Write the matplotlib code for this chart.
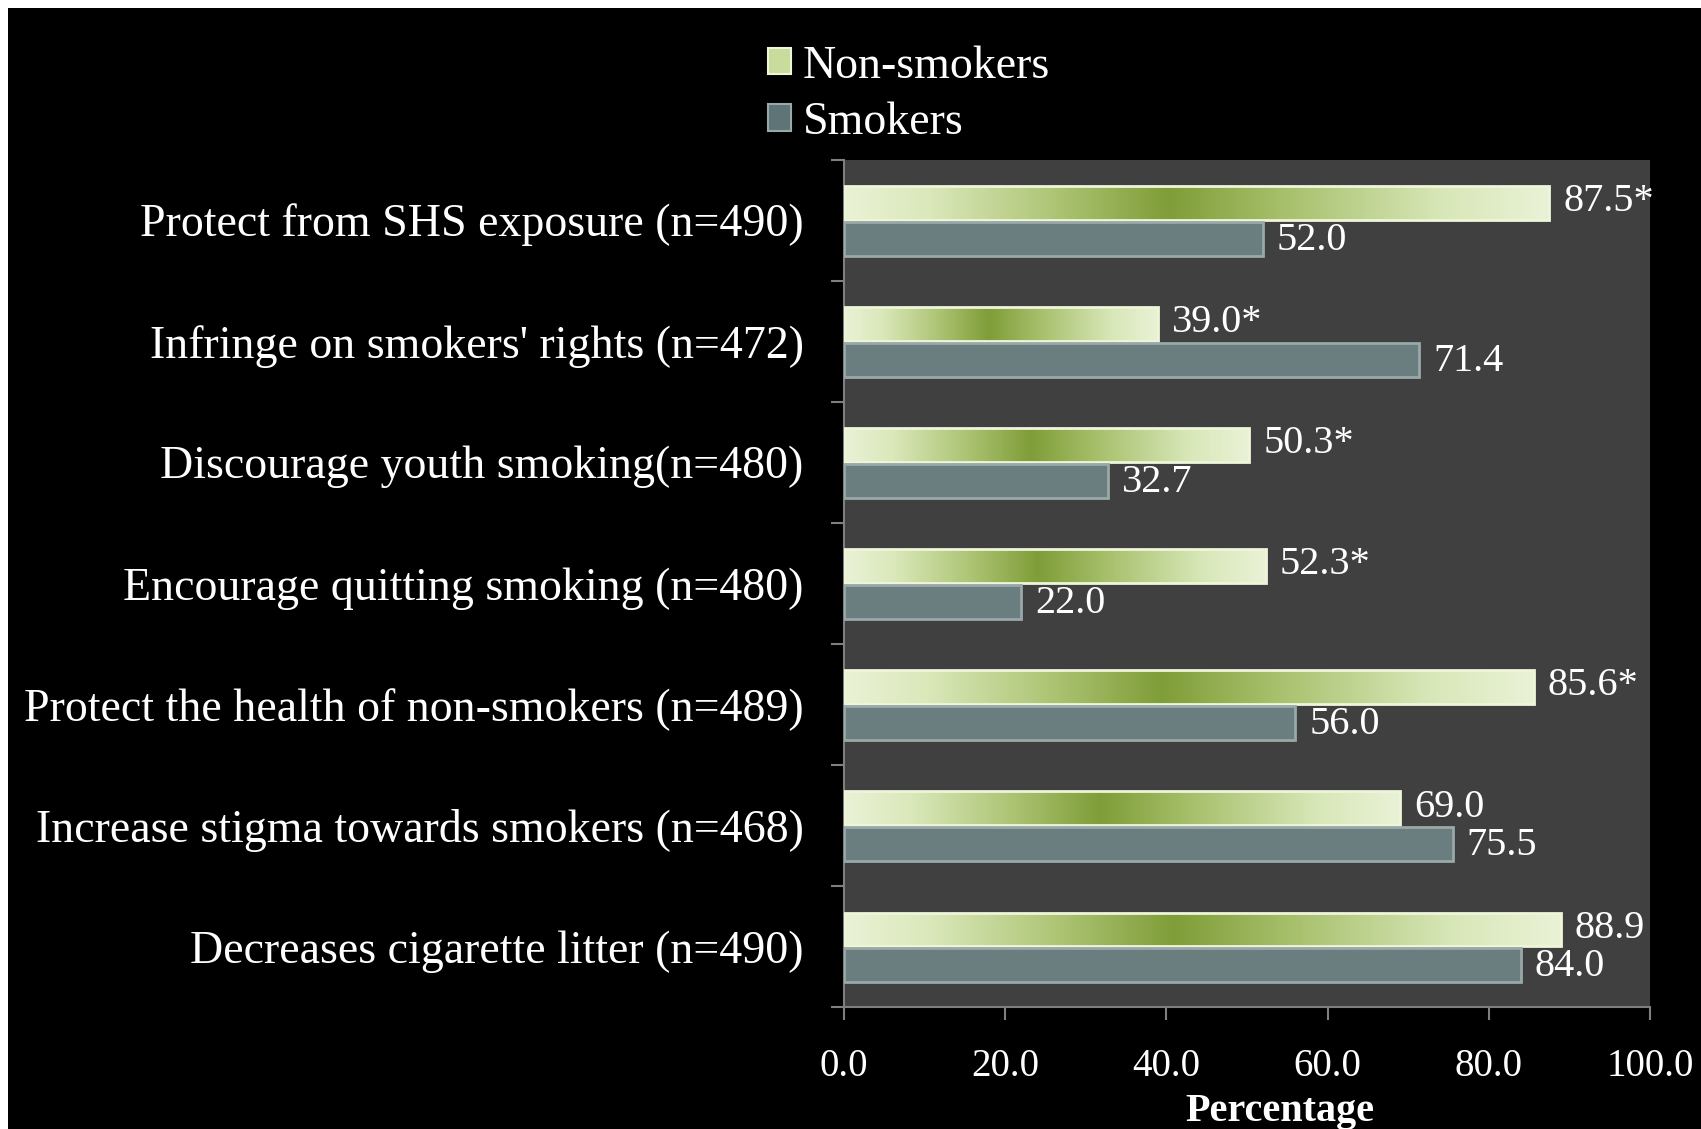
import numpy as np
import matplotlib
matplotlib.use("Agg")
import matplotlib.pyplot as plt
from matplotlib.colors import LinearSegmentedColormap
from matplotlib.patches import Rectangle, Patch

categories = [
    "Protect from SHS exposure (n=490)",
    "Infringe on smokers' rights (n=472)",
    "Discourage youth smoking(n=480)",
    "Encourage quitting smoking (n=480)",
    "Protect the health of non-smokers (n=489)",
    "Increase stigma towards smokers (n=468)",
    "Decreases cigarette litter (n=490)",
]
non_smokers = [87.5, 39.0, 50.3, 52.3, 85.6, 69.0, 88.9]
smokers = [52.0, 71.4, 32.7, 22.0, 56.0, 75.5, 84.0]
non_smoker_labels = ["87.5*", "39.0*", "50.3*", "52.3*", "85.6*", "69.0", "88.9"]
smoker_labels = ["52.0", "71.4", "32.7", "22.0", "56.0", "75.5", "84.0"]
xticks = [0, 20, 40, 60, 80, 100]
xtick_labels = ["0.0", "20.0", "40.0", "60.0", "80.0", "100.0"]

FONT = "Liberation Serif"
W, H = 1701, 1129
fig = plt.figure(figsize=(W / 100, H / 100), dpi=100)
fig.patch.set_facecolor("white")
fig.add_artist(Rectangle((8 / W, 0), 1, 1 - 8 / H, transform=fig.transFigure,
                         facecolor="black", edgecolor="none", zorder=-10))

ax = fig.add_axes([844 / W, 1 - 1007 / H, (1650 - 844) / W, (1007 - 159.5) / H])
ax.set_facecolor("#404040")

y = np.arange(len(categories))
h = 0.28
green_bars = ax.barh(y - 0.14, non_smokers, height=h, facecolor="none",
                     edgecolor="#eef6da", linewidth=2.0, zorder=3)
gray_bars = ax.barh(y + 0.155, smokers, height=h, facecolor="#6a7e80",
                    edgecolor="#99a8a8", linewidth=2.0, zorder=3)

cmap = LinearSegmentedColormap.from_list("grn", [
    (0.0, "#eaf2d6"), (0.12, "#dae8ba"), (0.3, "#adc474"),
    (0.46, "#7f9d38"), (0.62, "#a6bf6a"), (0.85, "#d8e7b8"), (1.0, "#eaf2d6")])
grad = np.linspace(0, 1, 256).reshape(1, -1)
for p in green_bars:
    x0, y0, w_, hh = p.get_x(), p.get_y(), p.get_width(), p.get_height()
    im = ax.imshow(grad, cmap=cmap, aspect="auto", extent=(x0, x0 + w_, y0 + hh, y0),
                   zorder=2, interpolation="bilinear")
    im.set_clip_path(p)

ax.set_xlim(0, 100)
ax.set_ylim(len(categories) - 0.5, -0.5)

for p, lab in zip(green_bars, non_smoker_labels):
    ax.annotate(lab, (p.get_width(), p.get_y() + p.get_height() / 2),
                xytext=(10, 1), textcoords="offset points", va="center", ha="left",
                color="white", fontsize=29, family=FONT, zorder=5)
for p, lab in zip(gray_bars, smoker_labels):
    ax.annotate(lab, (p.get_width(), p.get_y() + p.get_height() / 2),
                xytext=(10, -1), textcoords="offset points", va="center", ha="left",
                color="white", fontsize=29, family=FONT, zorder=5)

ax.set_yticks(y)
ax.set_yticklabels(categories, fontsize=33, family=FONT, color="white")
ax.set_yticks(np.arange(len(categories) + 1) - 0.5, minor=True)
ax.tick_params(axis="y", which="major", length=0, pad=29)
ax.tick_params(axis="y", which="minor", length=9.4, width=1.5, color="#7f7f7f")
ax.set_xticks(xticks)
ax.set_xticklabels(xtick_labels, fontsize=28, family=FONT, color="white")
ax.tick_params(axis="x", length=9.4, width=1.5, color="#7f7f7f", pad=20)
for s in ["top", "right"]:
    ax.spines[s].set_visible(False)
for s in ["left", "bottom"]:
    ax.spines[s].set_color("#7f7f7f")
    ax.spines[s].set_linewidth(1.5)
ax.set_xlabel("Percentage", fontsize=29, family=FONT, fontweight="bold",
              color="white", labelpad=6)
ax.xaxis.label.set_x(0.541)

handles = [Patch(facecolor="#c9dc9c", edgecolor="#eef6da", linewidth=1.5, label="Non-smokers"),
           Patch(facecolor="#5f7476", edgecolor="#99a8a8", linewidth=1.5, label="Smokers")]
leg = fig.legend(handles=handles, loc="upper left", bbox_to_anchor=(768 / W, 1 - 45 / H),
                 frameon=False, prop={"family": FONT, "size": 33},
                 handlelength=0.5, handleheight=0.5, handletextpad=0.25,
                 labelspacing=0.3, borderpad=0, borderaxespad=0)
for t in leg.get_texts():
    t.set_color("white")

fig.savefig("out.png", dpi=100, facecolor=fig.get_facecolor())
